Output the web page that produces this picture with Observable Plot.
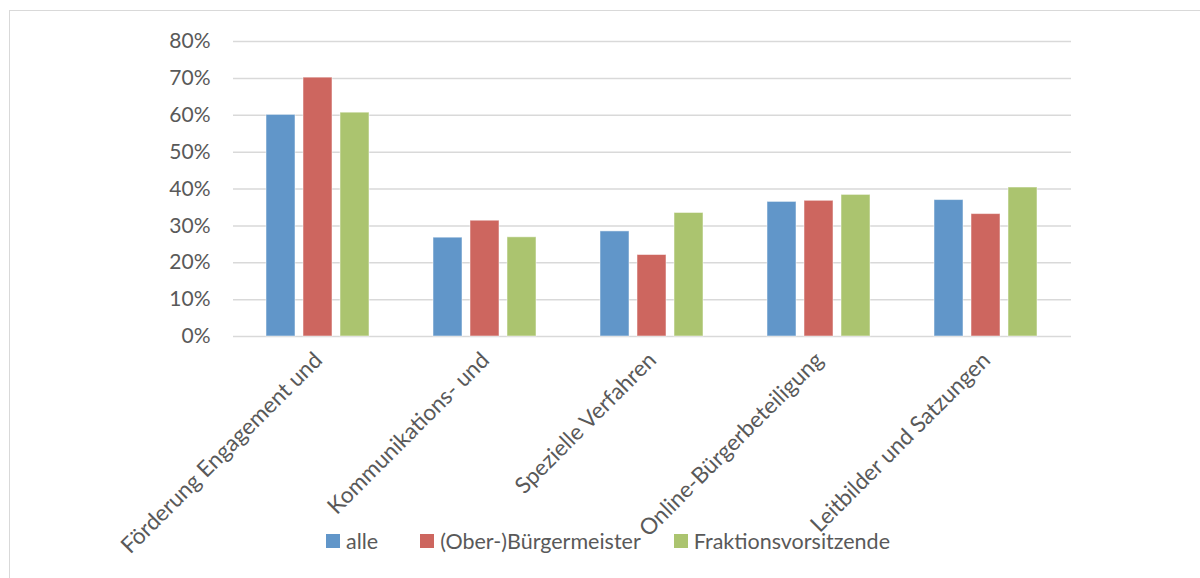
<!DOCTYPE html>
<html>
<head>
<meta charset="utf-8">
<script src="https://cdn.jsdelivr.net/npm/d3@7"></script>
<script src="https://cdn.jsdelivr.net/npm/@observablehq/plot@0.6"></script>
<style>
  html, body { margin: 0; padding: 0; background: #fff; }
  #wrap { position: relative; width: 1200px; height: 578px; overflow: hidden; font-family: Lato, "Open Sans", sans-serif; }
  #border { position: absolute; left: 9px; top: 10px; width: 1300px; height: 700px; border-left: 1.5px solid #d9d9d9; border-top: 1.5px solid #d9d9d9; }
  #grid, #chart { position: absolute; left: 0; top: 0; }
  #legend { position: absolute; left: 8px; width: 1200px; top: 528px; display: flex; justify-content: center; font-size: 21.5px; color: #595959; }
  .item { display: flex; align-items: center; }
  .item:nth-child(1) { margin-right: 42px; }
  .item:nth-child(2) { margin-right: 33px; }
  .sw { width: 14px; height: 14px; margin-right: 6px; }
</style>
</head>
<body>
<div id="wrap">
  <div id="border"></div>
  <div id="grid"></div>
  <div id="chart"></div>
  <div id="legend"></div>
</div>
<script>
const categories = ["Förderung Engagement und", "Kommunikations- und", "Spezielle Verfahren", "Online-Bürgerbeteiligung", "Leitbilder und Satzungen"];
const series = ["alle", "(Ober-)Bürgermeister", "Fraktionsvorsitzende"];
const colors = ["#6196c9", "#cd665f", "#abc46f"];
const valuesAlle = [0.601, 0.268, 0.285, 0.365, 0.370];
const valuesBuergermeister = [0.702, 0.314, 0.221, 0.368, 0.332];
const valuesFraktion = [0.607, 0.269, 0.335, 0.384, 0.404];
const yTicks = [0, 0.1, 0.2, 0.3, 0.4, 0.5, 0.6, 0.7, 0.8];

const seriesValues = [valuesAlle, valuesBuergermeister, valuesFraktion];
const data = [];
categories.forEach((c, i) => series.forEach((s, j) => data.push({category: c, series: s, value: seriesValues[j][i]})));

const common = {
  width: 1200,
  height: 578,
  marginLeft: 233,
  marginRight: 129,
  marginTop: 41,
  marginBottom: 242,
  y: {domain: [0, 0.8], ticks: yTicks, label: null}
};

// gridlines and y axis span the full plot width
const grid = Plot.plot({
  ...common,
  style: {fontFamily: "Lato, 'Open Sans', sans-serif", color: "#595959", background: "transparent"},
  x: {domain: [0, 1], axis: null},
  marks: [
    Plot.ruleY(yTicks, {stroke: "#d9d9d9", strokeWidth: 1.5}),
    Plot.axisY({ticks: yTicks, tickFormat: d => Math.round(d * 100) + "%", tickSize: 0, tickPadding: 23, fontSize: 21, label: null})
  ]
});
document.getElementById("grid").appendChild(grid);

const chart = Plot.plot({
  ...common,
  style: {fontFamily: "Lato, 'Open Sans', sans-serif", color: "#595959", background: "transparent"},
  fx: {domain: categories, paddingInner: 0.3765, paddingOuter: 0.188, label: null},
  x: {domain: series, paddingInner: 0.21, paddingOuter: 0, axis: null},
  y: {...common.y, axis: null},
  color: {domain: series, range: colors},
  marks: [
    Plot.barY(data, {fx: "category", x: "series", y: "value", fill: "series", stroke: "#ffffff", strokeOpacity: 0.5, strokeWidth: 1}),
    Plot.axisFx({anchor: "bottom", tickRotate: -45, tickSize: 0, tickPadding: 20, fontSize: 22.5, label: null, textAnchor: "end"})
  ]
});
document.getElementById("chart").appendChild(chart);

const legend = document.getElementById("legend");
series.forEach((s, j) => {
  const it = document.createElement("div");
  it.className = "item";
  const sw = document.createElement("span");
  sw.className = "sw";
  sw.style.background = colors[j];
  const t = document.createElement("span");
  t.textContent = s;
  it.appendChild(sw); it.appendChild(t);
  legend.appendChild(it);
});
</script>
</body>
</html>
